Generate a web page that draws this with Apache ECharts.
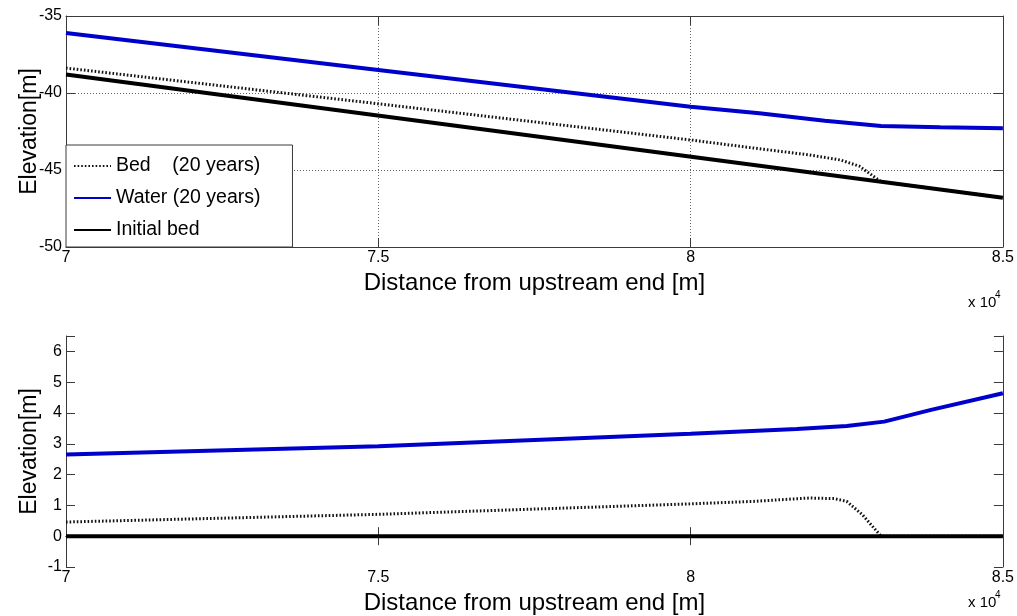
<!DOCTYPE html>
<html>
<head>
<meta charset="utf-8">
<script src="https://cdn.jsdelivr.net/npm/echarts@6/dist/echarts.min.js"></script>
<style>
  html, body { margin: 0; padding: 0; background: #fff; }
  #chart { width: 1017px; height: 616px; }
</style>
</head>
<body>
<div id="chart"></div>
<script>
// Long profile, distance from upstream end in metres
const initDist = [70000, 85000];
const initBedAbs = [-38.8, -46.8];
const initBedRel = [0, 0];

// Bed after 20 years
const bedDistAbs = [70000, 75000, 80000, 81100, 81900, 82400, 82700, 83050, 85000];
const bedAbs = [-38.38, -40.7, -43.05, -43.62, -44.02, -44.35, -44.75, -45.76, -46.8];
const bedDistRel = [70000, 75000, 80000, 81000, 81900, 82300, 82500, 82750, 83050, 85000];
const bedRel = [0.46, 0.71, 1.05, 1.13, 1.24, 1.22, 1.13, 0.70, 0.0, 0.0];

// Water surface after 20 years
const waterDistAbs = [70000, 75000, 80000, 81100, 82150, 83050, 84000, 85000];
const waterAbs = [-36.1, -38.5, -40.9, -41.32, -41.8, -42.14, -42.23, -42.29];
const waterDistRel = [70000, 75000, 80000, 81700, 82500, 83100, 83850, 85000];
const waterRel = [2.65, 2.92, 3.33, 3.48, 3.58, 3.72, 4.10, 4.64];

const seriesNames = ['Bed    (20 years)', 'Water (20 years)', 'Initial bed'];
const xName = 'Distance from upstream end [m]';
const yName = 'Elevation[m]';

const FONT = '"Liberation Sans", Arial, Helvetica, sans-serif';
const FRAME = '#3a3a3a';
const BLUE = '#0000cc';

const zip = (xs, ys) => xs.map((x, i) => [x, ys[i]]);

function xAxes(gridIndex, withGrid) {
  return [
    {
      type: 'value', gridIndex, position: 'bottom',
      min: 70000, max: 85000, interval: 5000,
      name: xName, nameLocation: 'middle', nameGap: 24, nameMoveOverlap: false,
      nameTextStyle: { fontFamily: FONT, fontSize: 24, color: '#000' },
      axisLine: { show: true, lineStyle: { color: FRAME, width: 1 } },
      axisTick: { show: true, inside: true, length: 9, lineStyle: { color: FRAME } },
      axisLabel: { fontFamily: FONT, fontSize: 16, color: '#000', margin: 3,
                   formatter: v => String(v / 10000) },
      splitLine: { show: withGrid, lineStyle: { type: [1, 2], color: '#666', width: 1 } }
    },
    {
      type: 'value', gridIndex, position: 'top',
      min: 70000, max: 85000, interval: 5000,
      axisLine: { show: true, lineStyle: { color: FRAME, width: 1 } },
      axisTick: { show: true, inside: true, length: 9, lineStyle: { color: FRAME } },
      axisLabel: { show: false },
      splitLine: { show: false }
    }
  ];
}

function yAxes(gridIndex, min, max, withGrid) {
  return [
    {
      type: 'value', gridIndex, position: 'left',
      min, max, interval: withGrid ? 5 : 1,
      name: yName, nameLocation: 'middle', nameGap: 25, nameMoveOverlap: false,
      nameTextStyle: { fontFamily: FONT, fontSize: 23, color: '#000' },
      axisLine: { show: true, lineStyle: { color: FRAME, width: 1 } },
      axisTick: { show: true, inside: true, length: 9, lineStyle: { color: FRAME } },
      axisLabel: { fontFamily: FONT, fontSize: 16, color: '#000', margin: 4,
                   formatter: v => (Number.isInteger(v) ? String(v) : '') },
      splitLine: { show: withGrid, lineStyle: { type: [1, 2], color: '#666', width: 1 } }
    },
    {
      type: 'value', gridIndex, position: 'right',
      min, max, interval: withGrid ? 5 : 1,
      axisLine: { show: true, lineStyle: { color: FRAME, width: 1 } },
      axisTick: { show: true, inside: true, length: 9, lineStyle: { color: FRAME } },
      axisLabel: { show: false },
      splitLine: { show: false }
    }
  ];
}

function lineSeries(name, data, axisIdx, style) {
  return {
    name, type: 'line', data,
    xAxisIndex: axisIdx.x, yAxisIndex: axisIdx.y,
    symbol: 'none', silent: true, animation: false,
    itemStyle: { color: style.color },
    lineStyle: style
  };
}

const bedStyle = { color: '#111', width: 3, type: [1.6, 2] };
const waterStyle = { color: BLUE, width: 4 };
const initStyle = { color: '#000', width: 4 };

const chart = echarts.init(document.getElementById('chart'), null, { renderer: 'canvas' });

chart.setOption({
  backgroundColor: '#fff',
  animation: false,
  grid: [
    { left: 66, right: 13, top: 16, height: 231 },
    { left: 66, right: 13, top: 336, height: 231 }
  ],
  xAxis: [...xAxes(0, true), ...xAxes(1, false)],
  yAxis: [...yAxes(0, -50, -35, true), ...yAxes(1, -1, 6.5, false)],
  legend: {
    data: seriesNames,
    orient: 'vertical', left: 66, top: 145,
    itemWidth: 37, itemHeight: 14, itemGap: 12,
    padding: [11, 32, 7, 7],
    backgroundColor: '#fff', borderColor: FRAME, borderWidth: 1, borderRadius: 0,
    itemStyle: { opacity: 0 },
    textStyle: { fontFamily: FONT, fontSize: 19.5, color: '#000' },
    selectedMode: false
  },
  series: [
    lineSeries(seriesNames[0], zip(bedDistAbs, bedAbs), { x: 0, y: 0 }, bedStyle),
    lineSeries(seriesNames[1], zip(waterDistAbs, waterAbs), { x: 0, y: 0 }, waterStyle),
    lineSeries(seriesNames[2], zip(initDist, initBedAbs), { x: 0, y: 0 }, initStyle),
    lineSeries(seriesNames[0], zip(bedDistRel, bedRel), { x: 2, y: 2 }, bedStyle),
    lineSeries(seriesNames[1], zip(waterDistRel, waterRel), { x: 2, y: 2 }, waterStyle),
    lineSeries(seriesNames[2], zip(initDist, initBedRel), { x: 2, y: 2 }, initStyle)
  ],
  graphic: [
    { type: 'text', x: 968, y: 303, style: { text: 'x 10', font: '15px ' + FONT, fill: '#000', verticalAlign: 'middle' } },
    { type: 'text', x: 995, y: 295, style: { text: '4', font: '10px ' + FONT, fill: '#000', verticalAlign: 'middle' } },
    { type: 'text', x: 968, y: 603, style: { text: 'x 10', font: '15px ' + FONT, fill: '#000', verticalAlign: 'middle' } },
    { type: 'text', x: 995, y: 595, style: { text: '4', font: '10px ' + FONT, fill: '#000', verticalAlign: 'middle' } }
  ]
});
</script>
</body>
</html>
